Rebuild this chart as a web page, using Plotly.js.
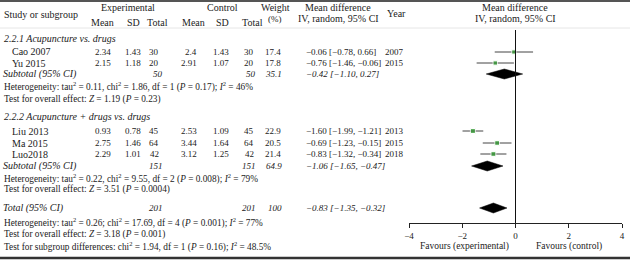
<!DOCTYPE html>
<html>
<head>
<meta charset="utf-8">
<script src="https://cdn.plot.ly/plotly-3.0.1.min.js"></script>
<style>html,body{margin:0;padding:0;background:#fff;}#chart{width:630px;height:260px;}</style>
</head>
<body>
<div id="chart"></div>
<script>
// ---- data ----
const studies = ['Cao 2007', 'Yu 2015', 'Liu 2013', 'Ma 2015', 'Luo2018'];
const expMean = [2.34, 2.15, 0.93, 2.75, 2.29];
const expSD = [1.43, 1.18, 0.78, 1.46, 1.01];
const expN = [30, 20, 45, 64, 42];
const ctlMean = [2.4, 2.91, 2.53, 3.44, 3.12];
const ctlSD = [1.43, 1.07, 1.09, 1.64, 1.25];
const ctlN = [30, 20, 45, 64, 42];
const weights = [17.4, 17.8, 22.9, 20.5, 21.4];
const md = [-0.06, -0.76, -1.60, -0.69, -0.83];
const mdLo = [-0.78, -1.46, -1.99, -1.23, -1.32];
const mdHi = [0.66, -0.06, -1.21, -0.15, -0.34];
const years = [2007, 2015, 2013, 2015, 2018];

const poolLabels = ['Subtotal (95% CI)', 'Subtotal (95% CI)', 'Total (95% CI)'];
const poolExpN = [50, 151, 201];
const poolCtlN = [50, 151, 201];
const poolWeight = ['35.1', '64.9', '100'];
const poolMd = [-0.42, -1.06, -0.83];
const poolLo = [-1.10, -1.65, -1.35];
const poolHi = [0.27, -0.47, -0.32];

const groupTitles = ['2.2.1 Acupuncture vs. drugs', '2.2.2 Acupuncture + drugs vs. drugs'];
const statLines = [
  'Heterogeneity: tau<sup>2</sup> = 0.11, chi<sup>2</sup> = 1.86, df = 1 (<i>P</i> = 0.17); <i>I</i><sup>2</sup> = 46%',
  'Test for overall effect: <i>Z</i> = 1.19 (<i>P</i> = 0.23)',
  'Heterogeneity: tau<sup>2</sup> = 0.22, chi<sup>2</sup> = 9.55, df = 2 (<i>P</i> = 0.008); <i>I</i><sup>2</sup> = 79%',
  'Test for overall effect: <i>Z</i> = 3.51 (<i>P</i> = 0.0004)',
  'Heterogeneity: tau<sup>2</sup> = 0.26; chi<sup>2</sup> = 17.69, df = 4 (<i>P</i> = 0.001); <i>I</i><sup>2</sup> = 77%',
  'Test for overall effect: <i>Z</i> = 3.18 (<i>P</i> = 0.001)',
  'Test for subgroup differences: chi<sup>2</sup> = 1.94, df = 1 (<i>P</i> = 0.16); <i>I</i><sup>2</sup> = 48.5%'
];
const tickVals = [-4, -2, 0, 2, 4];
const favourLabels = ['Favours (experimental)', 'Favours (control)'];

// ---- layout positions (pixels) ----
const W = 630, H = 260;
const AXIS_Y = 223;
const studyY = [52, 63, 131, 143, 154];
const poolY = [74, 166, 208];
const groupY = [38, 117];
const statY = [87, 99, 178, 189, 222, 234, 246];
const FONT = 'Liberation Serif, Times New Roman, serif';
const FS = 9, FL = 10, FC = 9, FST = 9.3;
const TXT = '#222';

const minus = s => String(s).replace(/-/g, '\u2212');
const f2 = v => minus(v.toFixed(2));
const ci = (e, l, h) => f2(e) + ' [' + f2(l) + ', ' + f2(h) + ']';
const py = y => 1 - y / H;

const ann = [];
function t(text, x, y, anchor, size) {
  ann.push({
    text: text, xref: 'paper', yref: 'paper', x: x / W, y: py(y),
    xanchor: anchor || 'left', yanchor: 'middle', showarrow: false,
    font: {family: FONT, size: size || FS, color: TXT}, borderpad: 0
  });
}

// headers
t('Study or subgroup', 3, 14, 'left', FL);
t('Experimental', 128, 7, 'center', FL);
t('Control', 222, 7, 'center', FL);
t('Weight', 275, 7, 'center', FL);
t('(%)', 275, 19, 'center', FS);
t('Mean difference', 338, 7, 'center', FL);
t('IV, random, 95% CI', 338, 19, 'center', FL);
t('Year', 396, 13, 'center', FL);
t('Mean difference', 515, 7, 'center', FL);
t('IV, random, 95% CI', 515, 19, 'center', FL);
[['Mean', 102], ['SD', 133], ['Total', 157], ['Mean', 193], ['SD', 222], ['Total', 252]].forEach(h => t(h[0], h[1], 22, 'center', FL));

// group titles
groupTitles.forEach((g, i) => t('<i>' + g + '</i>', 3, groupY[i], 'left', FL));

// studies
studies.forEach((s, i) => {
  const y = studyY[i];
  t(s, 11, y, 'left', FL);
  t(String(expMean[i]), 112, y, 'right');
  t(String(expSD[i]), 142, y, 'right');
  t(String(expN[i]), 160, y, 'right');
  t(String(ctlMean[i]), 198, y, 'right');
  t(String(ctlSD[i]), 230, y, 'right');
  t(String(ctlN[i]), 255, y, 'right');
  t(String(weights[i]), 282, y, 'right');
  t(ci(md[i], mdLo[i], mdHi[i]), 305, y, 'left', FC);
  t(String(years[i]), 394, y, 'center');
});

// pooled rows
poolLabels.forEach((p, i) => {
  const y = poolY[i];
  t('<i>' + p + '</i>', 2, y, 'left', FL);
  t('<i>' + poolExpN[i] + '</i>', 164, y, 'right');
  t('<i>' + poolCtlN[i] + '</i>', 257, y, 'right');
  t('<i>' + poolWeight[i] + '</i>', 283, y, 'right');
  t('<i>' + ci(poolMd[i], poolLo[i], poolHi[i]) + '</i>', 305, y, 'left', FC);
});

// stats lines
statLines.forEach((s, i) => t(s, 3, statY[i], 'left', FST));

// favours labels
t(favourLabels[0], 464, 246, 'center', 9.5);
t(favourLabels[1], 569, 246, 'center', 9.5);

// ---- traces (forest plot on x / y) ----
const traces = [];
traces.push({
  type: 'scatter', mode: 'markers', x: md, y: studyY, xaxis: 'x', yaxis: 'y',
  marker: {symbol: 'square', color: '#1f8f1f', size: weights.map(w => Math.sqrt(w) * 1.05)},
  error_x: {type: 'data', symmetric: false,
    array: md.map((m, i) => mdHi[i] - m), arrayminus: md.map((m, i) => m - mdLo[i]),
    width: 0, thickness: 1, color: '#444'},
  hoverinfo: 'skip', showlegend: false
});
poolMd.forEach((m, i) => {
  const y = poolY[i], hh = 5;
  traces.push({
    type: 'scatter', mode: 'lines', fill: 'toself', fillcolor: '#000', xaxis: 'x', yaxis: 'y',
    x: [poolLo[i], m, poolHi[i], m, poolLo[i]],
    y: [y, y - hh, y, y + hh, y],
    line: {color: '#000', width: 0.5}, hoverinfo: 'skip', showlegend: false
  });
});

const layout = {
  width: W, height: H,
  margin: {l: 0, r: 0, t: 0, b: 0, pad: 0},
  paper_bgcolor: '#fff', plot_bgcolor: 'rgba(0,0,0,0)',
  showlegend: false,
  font: {family: FONT, size: FS, color: TXT},
  xaxis: {
    domain: [409 / W, 622 / W], range: [-4, 4], anchor: 'y',
    showline: true, linecolor: '#222', linewidth: 1,
    ticks: 'outside', ticklen: 4, tickwidth: 1, tickcolor: '#222',
    tickvals: tickVals, ticktext: tickVals.map(v => minus(v)),
    tickfont: {family: FONT, size: FS, color: TXT},
    showgrid: false, zeroline: false, fixedrange: true, automargin: false
  },
  yaxis: {domain: [(H - AXIS_Y) / H, 1], range: [AXIS_Y, 0], visible: false, fixedrange: true, automargin: false},
  shapes: [
    {type: 'line', xref: 'paper', yref: 'paper', x0: 0, x1: 1, y0: py(1), y1: py(1), line: {color: '#555', width: 2}},
    {type: 'line', xref: 'paper', yref: 'paper', x0: 0, x1: 1, y0: py(28), y1: py(28), line: {color: '#e6e6e6', width: 1}},
    {type: 'line', xref: 'paper', yref: 'paper', x0: 0, x1: 1, y0: py(258), y1: py(258), line: {color: '#333', width: 2.5}},
    {type: 'line', xref: 'x', yref: 'y', x0: 0, x1: 0, y0: 30, y1: AXIS_Y, line: {color: '#111', width: 1}}
  ],
  annotations: ann
};

Plotly.newPlot('chart', traces, layout, {staticPlot: true, displayModeBar: false});
</script>
</body>
</html>
